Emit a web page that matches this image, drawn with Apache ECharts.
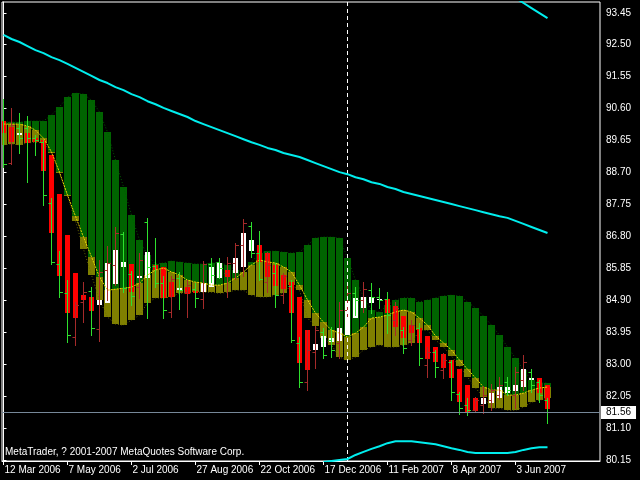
<!DOCTYPE html>
<html><head><meta charset="utf-8">
<script src="https://cdn.jsdelivr.net/npm/echarts@6/dist/echarts.min.js"></script>
<style>html,body{margin:0;padding:0;background:#000}#c{width:640px;height:480px}</style>
</head><body><div id="c"></div>
<script>
// ---- tick labels ----
const xTickIndex = [0, 8, 16, 24, 32, 40, 48, 56, 64];
const xTickLabels = ['12 Mar 2006', '7 May 2006', '2 Jul 2006', '27 Aug 2006', '22 Oct 2006', '17 Dec 2006', '11 Feb 2007', '8 Apr 2007', '3 Jun 2007'];
const yTicks = [80.15, 81.10, 82.05, 83.00, 83.95, 84.90, 85.85, 86.80, 87.75, 88.70, 89.65, 90.60, 91.55, 92.50, 93.45];

// ---- weekly OHLC bars ----
const barOpen  = [90.26,88.98,90.02,90.02,89.72,89.60,87.79,85.98,85.11,83.81,84.85,85.17,84.04,85.80,85.95,86.87,85.68,85.29,87.23,85.92,85.41,84.55,85.56,85.14,85.23,84.94,85.98,86.04,85.71,86.01,86.54,87.11,86.30,85.44,85.71,85.05,85.32,83.63,82.47,83.36,83.95,83.72,83.63,84.61,85.11,84.91,85.20,85.00,84.94,84.31,84.01,83.72,84.07,82.97,83.36,82.82,83.06,82.11,81.78,81.63,81.78,81.93,82.08,82.47,82.08,82.53,82.76,82.47,81.93];
const barHigh  = [90.88,90.62,90.47,90.38,89.81,89.66,87.94,86.36,85.50,84.85,85.44,85.29,86.10,86.51,87.08,86.93,85.77,86.30,87.34,86.75,85.62,85.62,85.74,85.50,85.41,86.07,86.16,86.16,86.19,86.60,87.32,87.23,86.96,86.33,86.01,85.71,85.50,83.81,84.01,84.13,84.07,84.10,84.85,85.41,85.29,85.44,85.41,85.26,85.14,84.85,84.10,84.31,84.22,83.51,83.42,83.33,83.12,82.17,81.99,82.02,82.35,82.41,82.62,82.62,82.91,83.27,82.85,82.53,81.99];
const barLow   = [88.86,88.95,89.28,88.41,89.22,87.73,85.98,85.00,83.66,83.57,84.25,83.86,83.69,84.91,85.35,85.14,84.76,84.97,84.37,85.29,84.37,84.40,84.64,84.40,84.70,84.67,85.44,85.56,85.00,85.53,85.62,86.19,85.50,85.14,84.70,84.82,83.66,82.32,82.23,82.88,83.18,83.21,83.18,84.40,84.46,84.55,84.52,84.67,83.92,83.86,83.33,83.57,82.97,82.62,82.62,82.59,81.93,81.52,81.49,81.58,81.55,81.63,81.96,82.08,81.69,82.23,82.17,81.87,81.25];
const barClose = [88.95,90.11,89.72,89.72,89.66,88.03,86.04,85.14,83.86,84.76,85.14,84.07,85.74,86.01,86.90,85.26,85.03,86.10,85.89,85.41,84.61,85.53,85.20,85.35,84.97,85.98,85.65,85.86,86.01,86.54,87.20,86.30,85.53,85.95,85.05,85.62,83.72,82.47,83.42,84.01,83.27,83.42,84.61,85.11,84.91,85.23,85.00,84.91,84.46,84.67,83.48,84.16,83.18,83.36,82.91,83.12,82.17,81.69,81.63,81.93,82.08,82.23,82.38,82.23,82.76,83.06,82.38,82.08,81.58];

// ---- smoothed candle bodies (red / white) ----
const bodyOpen  = [90.23,90.05,89.81,89.87,89.72,89.66,89.22,88.06,86.84,85.71,85.05,85.00,84.76,84.82,85.38,85.89,85.98,85.56,85.56,85.95,85.89,85.44,85.20,85.29,85.17,85.14,85.29,85.56,85.80,85.71,85.89,86.36,86.54,86.30,85.95,85.65,85.44,85.00,84.01,83.42,83.51,83.66,83.69,83.86,84.37,84.67,84.82,84.91,84.94,84.73,84.43,84.16,84.07,83.84,83.51,83.30,83.12,82.85,82.38,81.99,81.81,81.84,81.99,82.14,82.20,82.32,82.53,82.59,82.38];
const bodyClose = [89.87,89.60,89.87,89.58,89.60,88.74,86.90,85.62,84.52,84.37,84.91,84.58,84.91,86.01,86.39,86.04,85.14,85.62,86.33,85.80,84.97,85.00,85.26,85.08,85.11,85.41,85.89,86.01,85.59,86.16,86.90,86.69,86.04,85.59,85.32,85.23,84.52,83.03,82.82,83.60,83.84,83.78,84.07,84.88,84.97,85.00,85.00,84.94,84.52,84.10,83.78,83.92,83.63,83.15,83.06,82.88,82.59,81.87,81.58,81.60,81.99,82.14,82.32,82.32,82.38,82.85,82.59,82.14,81.66];

// ---- cloud boundaries ----
const cloudTop = [90.20,90.20,90.20,90.23,90.23,90.23,90.41,90.65,90.94,91.06,91.03,90.85,90.50,89.90,89.07,88.27,87.43,86.69,86.24,85.98,86.01,86.07,86.04,86.01,85.98,85.98,86.01,86.01,85.95,85.80,85.71,86.04,86.30,86.36,86.36,86.33,86.30,86.33,86.54,86.75,86.78,86.78,86.75,86.16,85.50,85.00,84.61,84.55,84.76,84.91,84.97,84.97,84.85,84.91,84.97,85.03,85.05,85.03,84.85,84.67,84.43,84.16,83.86,83.51,83.18,82.82,82.53,82.44,82.44];
const cloudMid = [90.14,90.14,90.14,90.08,89.96,89.72,89.31,88.71,88.03,87.40,86.78,86.19,85.59,85.20,85.23,85.26,85.29,85.41,85.65,85.80,85.86,85.74,85.65,85.50,85.44,85.41,85.35,85.35,85.41,85.56,85.74,85.95,86.10,86.04,86.01,85.89,85.74,85.35,84.91,84.52,84.25,84.01,83.92,83.81,83.92,84.10,84.37,84.40,84.46,84.55,84.61,84.55,84.37,84.16,83.84,83.63,83.42,83.12,82.85,82.59,82.32,82.23,82.23,82.08,82.08,82.14,82.23,82.29,82.32];
const cloudBot = [89.52,89.55,89.52,89.58,89.60,89.58,89.28,88.68,88.00,87.26,86.42,85.65,84.91,84.40,84.19,84.16,84.31,84.46,84.82,84.97,84.97,85.00,85.11,85.11,85.14,85.14,85.14,85.11,85.14,85.20,85.20,85.05,85.00,85.00,85.05,85.11,85.35,85.20,84.37,84.13,83.78,83.57,83.21,83.12,83.21,83.42,83.51,83.57,83.51,83.51,83.57,83.63,84.01,84.01,83.72,83.51,83.24,82.94,82.62,82.29,82.02,81.69,81.69,81.63,81.63,81.72,81.87,81.93,81.99];

// ---- moving average envelope (cyan) ----
const maMid = [92.79,92.67,92.58,92.46,92.34,92.25,92.13,92.04,91.93,91.81,91.69,91.57,91.45,91.36,91.24,91.15,91.03,90.94,90.82,90.73,90.62,90.53,90.44,90.35,90.23,90.14,90.05,89.96,89.87,89.78,89.69,89.60,89.52,89.43,89.37,89.28,89.22,89.16,89.07,88.98,88.89,88.80,88.71,88.65,88.56,88.50,88.41,88.36,88.27,88.21,88.12,88.06,88.00,87.94,87.88,87.82,87.76,87.70,87.64,87.58,87.52,87.46,87.40,87.35,87.26,87.17,87.08,86.99,86.90];
const maUpperStart = 64;
const maUpper = [93.89,93.74,93.59,93.44,93.29];
const maLowerStart = 40;
const maLower = [80.09,80.12,80.15,80.18,80.30,80.39,80.48,80.56,80.65,80.71,80.71,80.71,80.68,80.65,80.62,80.56,80.50,80.45,80.39,80.36,80.36,80.36,80.36,80.36,80.39,80.45,80.50,80.53,80.53];

const bidPrice = 81.56;
const markerIndex = 43;
const copyright = 'MetaTrader, ? 2001-2007 MetaQuotes Software Corp.';

const FONT = 'Liberation Sans';
const chart = echarts.init(document.getElementById('c'), null, {renderer: 'canvas'});

const cloudData = cloudTop.map((t, i) => [i, t, cloudMid[i], cloudBot[i]]);
const bodyData = bodyOpen.map((o, i) => [i, o, bodyClose[i]]);
const barData = barOpen.map((o, i) => [i, o, barHigh[i], barLow[i], barClose[i]]);
const pairs = (arr, start) => arr.map((v, k) => [start + k, v]);

chart.setOption({
  backgroundColor: '#000',
  animation: false,
  grid: {left: 2, top: 2, width: 598, height: 459, show: true, borderColor: '#fff', borderWidth: 1, containLabel: false, outerBoundsMode: 'none'},
  xAxis: {
    type: 'value', min: -0.1875, max: 74.5625,
    axisLine: {show: true, lineStyle: {color: '#fff', width: 1}},
    axisTick: {show: true, customValues: xTickIndex, length: 4, lineStyle: {color: '#fff'}},
    axisLabel: {show: true, customValues: xTickIndex, color: '#fff', fontFamily: FONT, fontSize: 10, align: 'left', margin: 4, padding: [0, 0, 0, 1],
      formatter: v => xTickLabels[xTickIndex.indexOf(Math.round(v))] || ''},
    splitLine: {show: false}
  },
  yAxis: {
    type: 'value', position: 'right', min: 80.12, max: 93.77,
    axisLine: {show: true, lineStyle: {color: '#fff', width: 1}},
    axisTick: {show: true, customValues: yTicks, length: 3, lineStyle: {color: '#fff'}},
    axisLabel: {show: true, customValues: yTicks, color: '#fff', fontFamily: FONT, fontSize: 10, margin: 6, formatter: v => v.toFixed(2)},
    splitLine: {show: false}
  },
  graphic: [{type: 'text', left: 5, top: 447, z: 100, style: {text: copyright, fill: '#fff', font: '10px "Liberation Sans"'}}],
  series: [
    {
      type: 'custom', name: 'cloud', z: 1, clip: true, silent: true,
      data: cloudData, encode: {x: 0, y: [1, 2, 3]},
      renderItem(params, api) {
        const i = api.value(0);
        const pT = api.coord([i, api.value(1)]);
        const pM = api.coord([i, api.value(2)]);
        const pB = api.coord([i, api.value(3)]);
        const x0 = Math.round(pT[0] - 3.5);
        const yT = Math.round(pT[1]), yM = Math.round(pM[1]), yB = Math.round(pB[1]);
        return {type: 'group', children: [
          {type: 'rect', shape: {x: x0, y: Math.min(yT, yM), width: 7, height: Math.max(1, Math.abs(yM - yT))}, style: {fill: '#006400'}},
          {type: 'rect', shape: {x: x0, y: Math.min(yM, yB), width: 7, height: Math.max(1, Math.abs(yB - yM))}, style: {fill: '#808000'}}
        ]};
      }
    },
    {type: 'line', name: 'top', z: 2, silent: true, symbol: 'none', data: pairs(cloudTop, 0), lineStyle: {color: '#005a00', width: 1, type: [1, 2]},
      markLine: {symbol: 'none', silent: true, animation: false, label: {show: false},
        data: [{xAxis: markerIndex, lineStyle: {color: '#fff', width: 1, type: [4, 3]}}]}},
    {type: 'line', name: 'bot', z: 2, silent: true, symbol: 'none', data: pairs(cloudBot, 0), lineStyle: {color: '#6a6a00', width: 1, type: [1, 2]}},
    {
      type: 'custom', name: 'bodies', z: 3, clip: true, silent: true,
      data: bodyData, encode: {x: 0, y: [1, 2]},
      renderItem(params, api) {
        const i = api.value(0);
        const o = api.value(1), c = api.value(2);
        const po = api.coord([i, o]);
        const pc = api.coord([i, c]);
        const y0 = Math.round(Math.min(po[1], pc[1]));
        const h = Math.max(1, Math.round(Math.abs(po[1] - pc[1])));
        return {type: 'rect', shape: {x: Math.round(po[0] - 2.5), y: y0, width: 5, height: h}, style: {fill: c < o ? '#ff0000' : '#ffffff'}};
      }
    },
    {type: 'line', name: 'mid', z: 3, silent: true, symbol: 'none', data: pairs(cloudMid, 0), lineStyle: {color: '#e8d800', width: 1, type: [2, 1]}},
    {
      type: 'custom', name: 'bars', z: 4, clip: true, silent: true,
      data: barData, encode: {x: 0, y: [1, 2, 3, 4]},
      renderItem(params, api) {
        const i = api.value(0);
        const o = api.value(1), c = api.value(4);
        const pH = api.coord([i, api.value(2)]);
        const pL = api.coord([i, api.value(3)]);
        const pO = api.coord([i, o]);
        const pC = api.coord([i, c]);
        const x = Math.floor(pH[0]) + 0.5;
        const col = c < o ? '#2ee02e' : '#a52a2a';
        const st = {stroke: col, lineWidth: 1};
        const yo = Math.round(pO[1]) + 0.5, yc = Math.round(pC[1]) + 0.5;
        return {type: 'group', children: [
          {type: 'line', shape: {x1: x, y1: Math.round(pH[1]), x2: x, y2: Math.round(pL[1]) + 1}, style: st},
          {type: 'line', shape: {x1: x - 3, y1: yo, x2: x, y2: yo}, style: st},
          {type: 'line', shape: {x1: x, y1: yc, x2: x + 3.5, y2: yc}, style: st}
        ]};
      }
    },
    {type: 'line', name: 'ma', z: 5, silent: true, symbol: 'none', data: pairs(maMid, 0), lineStyle: {color: '#00eeee', width: 2}},
    {type: 'line', name: 'maUp', z: 5, silent: true, symbol: 'none', data: pairs(maUpper, maUpperStart), lineStyle: {color: '#00eeee', width: 2}},
    {type: 'line', name: 'maLo', z: 5, silent: true, symbol: 'none', data: pairs(maLower, maLowerStart), lineStyle: {color: '#00eeee', width: 2}},
    {type: 'line', name: 'bid', z: 6, silent: true, symbol: 'none', data: [],
      markLine: {symbol: 'none', silent: true, animation: false,
        data: [{yAxis: bidPrice, lineStyle: {color: '#778899', width: 1, type: 'solid'},
          label: {show: true, position: 'end', distance: 1, formatter: bidPrice.toFixed(2), color: '#000', backgroundColor: '#fff',
            padding: [2, 5, 1, 5], fontFamily: FONT, fontSize: 10}}]}}
  ]
});
</script>
</body></html>
